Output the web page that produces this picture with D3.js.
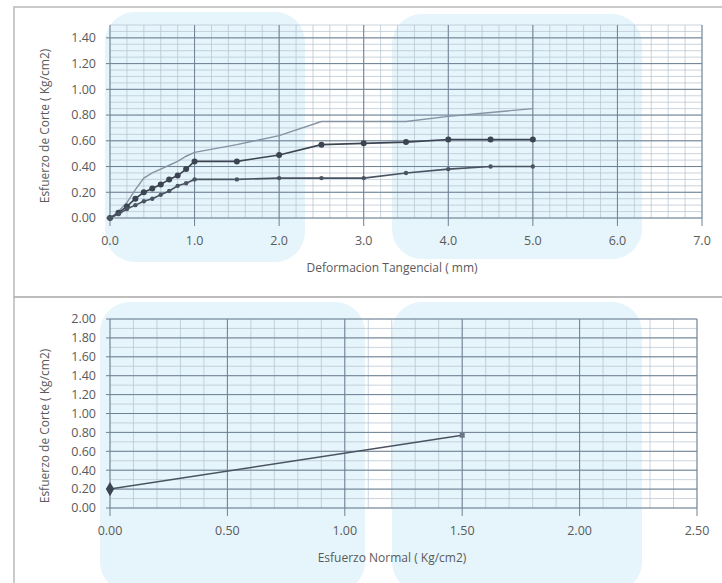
<!DOCTYPE html>
<html lang="es">
  <head>
    <meta charset="utf-8">
    <title>Corte directo</title>
    <script src="https://d3js.org/d3.v7.min.js"></script>
    <style type="text/css">
      body { margin: 0; background: #fff; }
      text { font-family: "Open Sans", "Liberation Sans", sans-serif; fill: #5a5a5a; }
      .minor line { stroke: #b3c2cf; stroke-width: .7; }
      .major line { stroke: #6e8193; stroke-width: 1; }
      .frame { fill: none; stroke: #b9b9b9; stroke-width: 1.5; }
      .mark { fill: #d6eef8; }
    </style>
  </head>
  <body>
    <svg width="722" height="583"></svg>
    <script type="text/javascript">
      // curvas esfuerzo - deformacion (tres especimenes)
      var deformacion = [0, 0.1, 0.2, 0.3, 0.4, 0.5, 0.6, 0.7, 0.8, 0.9, 1.0,
                         1.5, 2.0, 2.5, 3.0, 3.5, 4.0, 4.5, 5.0];
      var esfuerzo1 = [0, 0.05, 0.12, 0.22, 0.31, 0.35, 0.38, 0.41, 0.44, 0.48, 0.51,
                       0.57, 0.64, 0.75, 0.75, 0.75, 0.79, 0.82, 0.85];
      var esfuerzo2 = [0, 0.04, 0.09, 0.15, 0.2, 0.23, 0.26, 0.3, 0.33, 0.38, 0.44,
                       0.44, 0.49, 0.57, 0.58, 0.59, 0.61, 0.61, 0.61];
      var esfuerzo3 = [0, 0.03, 0.07, 0.1, 0.13, 0.15, 0.18, 0.21, 0.25, 0.27, 0.3,
                       0.3, 0.31, 0.31, 0.31, 0.35, 0.38, 0.4, 0.4];

      // envolvente de falla
      var normal = [0, 1.5];
      var corte = [0.2, 0.77];

      var ticksTop = [0, 1, 2, 3, 4, 5, 6, 7];
      var ticksTopY = [0, 0.2, 0.4, 0.6, 0.8, 1.0, 1.2, 1.4];
      var ticksBot = [0, 0.5, 1.0, 1.5, 2.0, 2.5];
      var ticksBotY = [0, 0.2, 0.4, 0.6, 0.8, 1.0, 1.2, 1.4, 1.6, 1.8, 2.0];

      var svg = d3.select("svg");

      // marcos
      svg.append("rect").attr("class", "frame")
        .attr("x", 14).attr("y", 7).attr("width", 712).attr("height", 290);
      svg.append("rect").attr("class", "frame")
        .attr("x", 14).attr("y", 297).attr("width", 712).attr("height", 300);

      // marca de agua
      [[105, 12, 200, 250], [392, 14, 250, 245], [100, 302, 265, 290], [392, 302, 250, 290]]
        .forEach(function(r) {
          svg.append("rect").attr("class", "mark")
            .attr("x", r[0]).attr("y", r[1]).attr("width", r[2]).attr("height", r[3])
            .attr("rx", 30).attr("opacity", .6);
        });

      function panel(o) {
        var x = d3.scaleLinear().domain(o.xd).range(o.xr);
        var y = d3.scaleLinear().domain(o.yd).range(o.yr);
        var g = svg.append("g");

        g.append("g").attr("class", "minor").selectAll("line")
          .data(d3.range(o.xd[0], o.xd[1] + 1e-9, o.xm)).enter().append("line")
          .attr("x1", function(d) { return x(d); }).attr("x2", function(d) { return x(d); })
          .attr("y1", o.yr[0]).attr("y2", o.yr[1]);
        g.append("g").attr("class", "minor").selectAll("line")
          .data(d3.range(o.yd[0], o.yd[1] + 1e-9, o.ym)).enter().append("line")
          .attr("x1", o.xr[0]).attr("x2", o.xr[1])
          .attr("y1", function(d) { return y(d); }).attr("y2", function(d) { return y(d); });

        g.append("g").attr("class", "major").selectAll("line")
          .data(o.xt).enter().append("line")
          .attr("x1", function(d) { return x(d); }).attr("x2", function(d) { return x(d); })
          .attr("y1", o.yr[0] + 8).attr("y2", o.yr[1]);
        g.append("g").attr("class", "major").selectAll("line")
          .data(o.yt).enter().append("line")
          .attr("x1", o.xr[0] - 4).attr("x2", o.xr[1])
          .attr("y1", function(d) { return y(d); }).attr("y2", function(d) { return y(d); });

        g.selectAll(".xl").data(o.xt).enter().append("text")
          .attr("x", function(d) { return x(d); }).attr("y", o.yr[0] + 27)
          .attr("text-anchor", "middle").style("font-size", "12.5px")
          .text(function(d) { return d3.format(o.xf)(d); });
        g.selectAll(".yl").data(o.yt).enter().append("text")
          .attr("x", o.xr[0] - 14).attr("y", function(d) { return y(d); })
          .attr("dy", ".35em").attr("text-anchor", "end").style("font-size", "12.5px")
          .text(function(d) { return d3.format(".2f")(d); });

        g.append("text").attr("x", 392).attr("y", o.yr[0] + 54)
          .attr("text-anchor", "middle").style("font-size", "12px").text(o.xtitle);
        g.append("text")
          .attr("transform", "translate(49," + o.ymid + ") rotate(-90)")
          .attr("text-anchor", "middle").style("font-size", "12px").text(o.ytitle);
        return { x: x, y: y, g: g };
      }

      var upper = panel({
        xd: [0, 7], xr: [110, 702], yd: [0, 1.5], yr: [218, 25],
        xm: 0.2, ym: 0.05, xt: ticksTop, yt: ticksTopY, xf: ".1f",
        xtitle: "Deformacion Tangencial ( mm)", ytitle: "Esfuerzo de Corte ( Kg/cm2)", ymid: 126
      });

      var series = [
        { v: esfuerzo1, color: "#8593a3", w: 1.4, r: 0 },
        { v: esfuerzo2, color: "#3c4452", w: 1.6, r: 3 },
        { v: esfuerzo3, color: "#4a5361", w: 1.6, r: 2.2 }
      ];
      var line = d3.line()
        .x(function(d) { return upper.x(d[0]); })
        .y(function(d) { return upper.y(d[1]); });

      series.forEach(function(s) {
        var pts = deformacion.map(function(d, i) { return [d, s.v[i]]; });
        upper.g.append("path").datum(pts)
          .attr("fill", "none").attr("stroke", s.color).attr("stroke-width", s.w)
          .attr("d", line);
        if (s.r > 0) {
          upper.g.selectAll(null).data(pts).enter().append("circle")
            .attr("cx", function(d) { return upper.x(d[0]); })
            .attr("cy", function(d) { return upper.y(d[1]); })
            .attr("r", s.r).attr("fill", s.color);
        }
      });

      var lower = panel({
        xd: [0, 2.5], xr: [110, 697], yd: [0, 2], yr: [508, 319],
        xm: 0.1, ym: 0.1, xt: ticksBot, yt: ticksBotY, xf: ".2f",
        xtitle: "Esfuerzo Normal  ( Kg/cm2)", ytitle: "Esfuerzo de Corte ( Kg/cm2)", ymid: 426
      });

      var env = normal.map(function(d, i) { return [d, corte[i]]; });
      lower.g.append("path").datum(env)
        .attr("fill", "none").attr("stroke", "#4a5361").attr("stroke-width", 1.5)
        .attr("d", d3.line()
          .x(function(d) { return lower.x(d[0]); })
          .y(function(d) { return lower.y(d[1]); }));
      lower.g.append("path")
        .attr("d", d3.symbol().type(d3.symbolDiamond).size(60)())
        .attr("transform", "translate(" + lower.x(env[0][0]) + "," + lower.y(env[0][1]) + ")")
        .attr("fill", "#3c4452");
      lower.g.append("path")
        .attr("d", d3.symbol().type(d3.symbolSquare).size(25)())
        .attr("transform", "translate(" + lower.x(env[1][0]) + "," + lower.y(env[1][1]) + ")")
        .attr("fill", "#6b7584");
    </script>
  </body>
</html>
